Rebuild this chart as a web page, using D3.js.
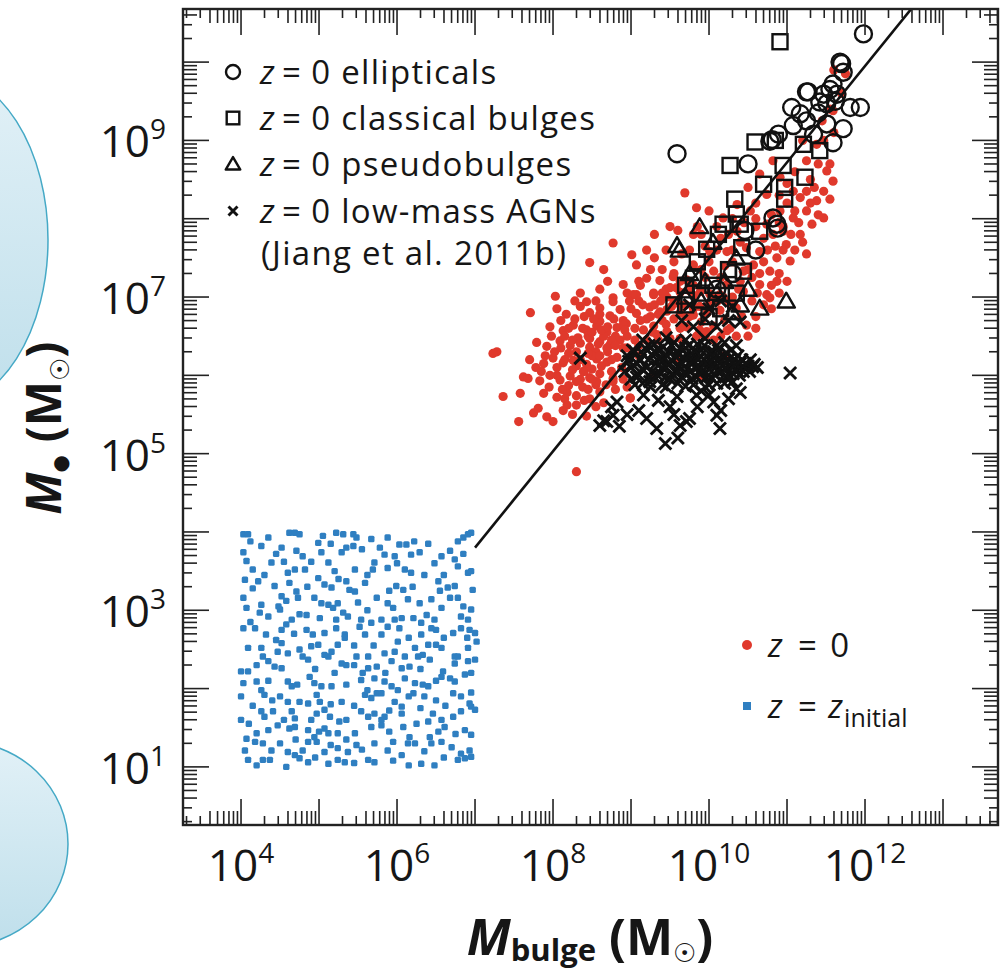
<!DOCTYPE html>
<html><head><meta charset="utf-8">
<script src="https://cdn.jsdelivr.net/npm/d3@7"></script>
<style>
body{margin:0;background:#fff;}
svg{display:block;}
text{font-family:"Open Sans","Noto Sans",sans-serif;fill:#161616;}
</style>
</head><body>
<svg id="chart" width="1005" height="976"></svg>
<script>
// ---- DATA (log10 of M_bulge, log10 of M_BH) ----
const zInitialLog = [
[4.03,3.97],[4.09,3.97],[4.62,3.99],[4.69,3.99],[4.75,3.97],[5.22,3.99],[5.31,3.97],[5.44,3.97],[5.48,3.93],[5.67,3.91],[5.88,3.93],[6.03,3.84],[6.12,3.84],[6.78,3.88],[6.85,3.93],[6.91,3.97],[6.95,3.99],
[4.03,3.74],[4.26,3.82],[4.52,3.80],[4.71,3.76],[4.79,3.69],[4.99,3.86],[5.03,3.74],[5.29,3.74],[5.35,3.80],[5.44,3.82],[5.84,3.71],[5.97,3.69],[6.18,3.71],[6.29,3.74],[6.57,3.69],[6.68,3.76],[6.74,3.65],
[4.07,3.63],[4.15,3.52],[4.39,3.61],[4.60,3.48],[4.69,3.52],[4.82,3.52],[5.12,3.61],[5.20,3.50],[4.99,3.41],[5.46,3.52],[5.71,3.61],[5.69,3.52],[5.88,3.54],[6.10,3.52],[6.18,3.48],[6.78,3.56],[6.91,3.48],[6.95,3.50],
[4.05,3.39],[4.22,3.37],[4.43,3.31],[4.62,3.35],[4.71,3.24],[5.07,3.33],[5.16,3.29],[5.35,3.37],[5.39,3.26],[5.46,3.24],[5.59,3.35],[5.99,3.31],[6.08,3.26],[6.53,3.37],[6.65,3.29],[6.74,3.31],[6.97,3.26],
[4.03,3.16],[4.07,3.03],[4.26,3.07],[4.52,3.18],[4.58,3.12],[4.73,3.16],[4.94,3.16],[5.03,3.09],[5.12,3.07],[5.18,3.03],[5.24,3.09],[5.74,3.16],[5.88,3.09],[5.95,3.03],[6.14,3.14],[6.29,3.09],[6.44,3.14],[6.57,3.03],[6.68,3.16],[6.78,3.16],
[4.24,2.97],[4.35,2.92],[4.50,3.01],[4.65,2.88],[4.84,2.94],[5.01,2.90],[5.22,2.88],[5.31,2.97],[5.37,2.92],[5.54,2.88],[5.67,2.84],[5.80,2.88],[5.97,2.88],[6.06,2.90],[6.21,2.90],[6.38,2.94],[6.31,2.84],[6.48,2.88],[6.82,2.92],[6.91,2.88],[6.95,3.01],
[4.03,2.77],[4.18,2.77],[4.32,2.69],[4.52,2.75],[4.58,2.82],[4.84,2.75],[4.92,2.69],[5.07,2.71],[5.22,2.77],[5.33,2.69],[5.52,2.79],[5.59,2.69],[5.80,2.69],[5.88,2.79],[6.03,2.77],[6.31,2.69],[6.44,2.77],[6.50,2.75],[6.72,2.71],[6.82,2.77],[6.93,2.75],[7.00,2.71],
[4.09,2.52],[4.26,2.52],[4.28,2.41],[4.47,2.47],[4.52,2.58],[4.75,2.50],[4.90,2.54],[4.99,2.56],[5.07,2.43],[5.16,2.47],[5.24,2.56],[5.33,2.65],[5.48,2.41],[5.63,2.41],[5.84,2.45],[5.97,2.47],[6.01,2.60],[6.23,2.52],[6.33,2.43],[6.40,2.56],[6.50,2.56],[6.57,2.52],[6.74,2.41],[6.91,2.52],[7.02,2.60],
[4.00,2.22],[4.09,2.22],[4.35,2.35],[4.43,2.28],[4.52,2.26],[4.79,2.41],[4.86,2.37],[5.12,2.41],[5.29,2.32],[5.35,2.30],[5.56,2.20],[5.63,2.26],[5.74,2.28],[5.93,2.35],[6.06,2.26],[6.10,2.41],[6.16,2.28],[6.27,2.41],[6.42,2.37],[6.59,2.22],[6.74,2.32],[6.78,2.41],[6.91,2.35],[7.00,2.37],
[4.03,2.07],[4.20,2.09],[4.26,1.98],[4.60,2.09],[4.65,2.03],[4.88,2.15],[4.94,2.07],[5.03,2.03],[5.16,2.03],[5.54,2.11],[5.71,2.13],[5.84,2.09],[5.93,2.03],[6.01,1.98],[6.10,2.13],[6.23,2.07],[6.33,2.05],[6.40,2.03],[6.57,2.15],[6.68,2.13],[6.74,2.09],[6.87,2.18],
[4.00,1.90],[4.30,1.92],[4.50,1.90],[4.60,1.83],[4.75,1.83],[4.86,1.81],[4.97,1.92],[5.01,1.83],[5.29,1.83],[5.59,1.92],[5.67,1.88],[5.74,1.94],[5.80,1.94],[5.97,1.83],[6.06,1.77],[6.21,1.94],[6.35,1.90],[6.72,1.94],[6.82,1.90],[6.93,1.81],
[4.00,1.60],[4.26,1.71],[4.30,1.64],[4.41,1.71],[4.65,1.71],[4.69,1.62],[4.90,1.60],[4.97,1.68],[5.07,1.73],[5.14,1.64],[5.26,1.58],[5.35,1.60],[5.54,1.71],[5.63,1.64],[5.71,1.68],[5.80,1.60],[5.84,1.64],[6.06,1.68],[6.40,1.58],[6.46,1.68],[6.57,1.60],[6.72,1.64],[6.82,1.71],[6.95,1.77],[7.00,1.73],
[4.07,1.36],[4.20,1.43],[4.35,1.47],[4.47,1.53],[4.62,1.49],[4.69,1.51],[4.86,1.47],[4.94,1.38],[5.07,1.49],[5.12,1.43],[5.24,1.43],[5.46,1.43],[5.67,1.51],[5.80,1.53],[6.08,1.51],[6.16,1.38],[6.42,1.38],[6.53,1.45],[6.61,1.51],[6.87,1.47],[6.95,1.41],
[4.05,1.21],[4.18,1.32],[4.39,1.21],[4.50,1.30],[4.60,1.19],[4.69,1.15],[4.79,1.21],[4.86,1.32],[4.97,1.32],[5.07,1.19],[5.24,1.24],[5.37,1.19],[5.48,1.28],[5.71,1.30],[5.88,1.21],[6.06,1.15],[6.14,1.30],[6.23,1.30],[6.44,1.30],[6.57,1.32],[6.82,1.17],[6.93,1.21],
[4.09,1.09],[4.28,1.09],[4.37,1.09],[4.58,1.00],[4.75,1.11],[4.86,1.06],[5.12,1.04],[5.24,1.09],[5.33,1.06],[5.63,1.09],[5.71,1.06],[6.31,1.04],[6.48,1.02],[6.78,1.09],[6.87,1.11],[6.95,1.13],
[4.12,3.88],[4.35,3.93],[4.45,3.72],[4.55,3.62],[4.90,3.62],[5.05,3.95],[5.15,3.85],[5.55,3.78],[5.62,3.45],[5.78,3.80],[6.00,3.60],[6.22,3.88],[6.40,3.85],[6.48,3.60],[6.60,3.45],[6.85,3.72],
[4.15,3.28],[4.30,3.45],[4.48,3.05],[4.85,3.30],[5.25,3.40],[5.50,3.10],[5.62,3.00],[5.90,3.25],[6.20,3.30],[6.35,3.45],[6.55,3.25],[6.85,3.05],[4.12,2.85],[4.45,2.62],[4.68,2.70],[4.75,2.95],
[5.45,2.55],[5.70,2.55],[6.15,2.65],[6.60,2.65],[6.90,2.65],[4.20,2.30],[4.60,2.45],[4.95,2.25],[5.20,2.20],[5.45,2.30],[5.85,2.20],[6.30,2.25],[6.50,2.10],[6.95,2.20],[4.35,2.10],[4.72,2.05],
[5.35,2.05],[5.62,1.98],[6.15,1.90],[6.50,1.85],[6.95,1.95],[4.15,1.78],[4.40,1.85],[5.15,1.80],[5.45,1.78],[5.90,1.72],[6.30,1.75],[6.62,1.78],[4.10,1.55],[4.55,1.60],[5.00,1.45],[5.35,1.35],
[5.90,1.45],[6.25,1.55],[6.75,1.42],[4.28,1.30],[4.70,1.35],[5.15,1.28],[5.55,1.22],[5.95,1.32],[6.35,1.20],[6.70,1.25],[4.20,1.02],[4.95,1.12],[5.45,1.05],[5.95,1.08],[6.15,1.02],[6.60,1.12]
];

const zZeroLog = [
[8.05,6.85],[8.17,6.78],[8.35,6.88],[8.47,6.80],[8.60,6.86],[8.73,6.76],[8.86,6.84],[9.07,6.79],[9.24,6.87],[9.37,6.81],
[7.96,6.62],[8.13,6.57],[8.26,6.64],[8.43,6.58],[8.56,6.63],[8.69,6.55],[8.82,6.61],[8.94,6.66],[9.16,6.58],[9.29,6.63],[9.46,6.56],[9.63,6.62],
[7.79,6.42],[7.92,6.37],[8.09,6.44],[8.22,6.38],[8.35,6.41],[8.47,6.36],[8.60,6.43],[8.73,6.39],[8.86,6.45],
[7.70,6.20],[7.88,6.15],[8.00,6.22],[8.13,6.16],[8.26,6.19],[8.43,6.14],[8.56,6.21],[8.69,6.17],[8.82,6.23],
[7.62,5.98],[7.83,5.93],[7.96,6.00],[8.09,5.94],[8.22,5.99],[8.35,5.95],[8.47,5.97],[8.60,6.02],[8.77,5.92],
[7.88,5.77],[8.05,5.72],[8.18,5.78],[8.30,5.74],[8.47,5.70],[8.60,5.79],[8.99,5.71],
[7.75,5.52],[7.92,5.47],[8.13,5.55],[8.43,5.48],
[8.15,6.50],[8.30,6.30],[8.45,6.50],[8.55,6.30],[8.65,6.50],[8.40,6.05],[8.25,6.07],[8.50,6.08],[8.70,6.30],[8.80,6.50],[8.90,6.70],[8.95,6.50],[9.05,6.60],[9.10,6.95],[9.20,6.72],[8.02,6.30],[7.85,6.05],[8.38,5.85],[8.55,5.88],[8.20,5.87],[8.90,6.35],
[9.69,8.33],[9.84,8.14],[8.77,7.69],[9.01,7.54],[9.07,7.41],[8.47,7.44],[8.65,7.35],[8.90,7.16],[8.03,7.01],[8.35,7.05],[8.77,6.99],[7.71,6.80],[7.28,6.30],[7.36,5.73],[7.56,5.41],[7.81,5.58],[8.00,5.41],[8.30,4.77],[8.18,5.62],[7.68,5.96],[7.23,6.28],[7.58,5.77],[8.60,7.10],[8.95,7.05],[9.20,7.60],[9.30,7.80],
[9.20,7.24],[9.37,7.21],[9.54,7.26],[9.71,7.22],[9.07,7.03],[9.29,7.05],[9.46,7.00],[9.63,7.06],[9.80,7.02],[10.01,7.04],[10.18,7.00],[9.46,6.84],[9.63,6.80],[9.80,6.85],[9.97,6.79],[10.14,6.83],[9.71,6.62],[9.88,6.58],[10.06,6.63],[10.23,6.57],[9.63,6.47],[9.84,6.50],[10.06,6.45],
[8.43,6.94],[8.60,6.69],[8.77,6.94],[8.90,6.64],[8.47,6.47],[8.69,6.35],[8.39,6.05],[8.56,5.92],[8.77,5.96],[8.99,5.71],[9.03,7.03],[9.29,7.03],[9.46,6.82],[9.63,6.60],[9.80,6.77],[9.97,6.56],[10.14,7.03],[10.35,6.86],[10.48,6.64],[10.27,6.60],[10.74,7.03],[9.33,6.52],[9.50,6.47],
[11.47,9.00],[11.38,8.95],[11.55,9.40],[11.25,8.74],[11.51,8.61],[11.59,8.48],[11.47,8.35],[11.38,8.23],[11.47,8.01],[11.25,8.10],[11.32,7.93],[11.08,8.01],[11.17,7.80],[10.99,7.67],[11.04,7.46],[10.87,7.50],[10.78,7.33],[10.65,7.58],[10.57,7.41],[10.44,7.33],[10.65,7.16],[10.87,7.20],[10.44,7.07],[10.23,7.16],[10.06,7.33],[9.80,7.41],[9.63,7.20],[9.50,7.12],[9.89,7.07],[10.10,6.94],[10.31,6.90],[9.63,6.90],[10.78,6.99],[10.74,7.93],[10.91,8.10],[11.08,8.35],[11.17,8.27],[10.82,7.80],[10.95,7.84],[10.48,7.63],[10.23,7.58],[10.01,7.58],[10.36,7.84],[10.53,8.10],[10.74,8.31],[10.36,8.18],[10.18,8.01],[10.65,8.57],[10.91,8.53],[10.82,8.74],[11.59,9.38],
[9.90,7.80],[10.10,7.90],[10.00,8.10],[10.30,8.00],[10.50,8.40],[10.60,7.90],[10.70,7.75],[10.90,7.95],[11.00,8.20],[11.10,8.60],[11.20,9.00],[11.30,8.50],[11.40,8.70],[11.60,9.10],[11.70,9.60],[10.40,7.70],[10.55,7.25],[10.70,7.45],[10.85,7.65],[11.10,7.60],[11.20,7.70],[10.90,7.30],[10.30,7.45],[10.15,7.25],[9.95,7.25],[9.75,7.60],[9.55,7.45],[9.40,7.35],[9.60,7.85],[9.50,7.90],[11.60,9.90],[11.75,9.85],[11.45,9.25],
[8.10,6.70],[8.28,6.72],[8.52,6.72],[8.78,6.72],[9.00,6.85],[8.38,6.60],[8.62,6.58],[8.75,6.45],[8.50,6.25],[8.62,6.12],[8.75,6.05],[8.88,6.10],[8.35,6.20],[8.20,6.28],[8.05,6.10],[7.95,5.85],[8.12,5.82],[8.30,5.62],[8.45,5.82],[8.65,5.65],[8.80,5.82],[8.90,5.95],[8.28,6.95],[8.55,6.95],[8.70,7.20],[9.10,7.20],[8.98,6.95],[9.15,6.90],[9.30,6.90],[9.25,6.75],[9.40,6.70],[9.55,6.72],[9.38,6.95],[9.05,6.45],[9.20,6.45],[9.35,6.45],[8.95,6.35],[9.10,6.38],
[9.90,6.68],[10.00,6.90],[10.20,6.70],[10.30,7.00],[10.42,6.75],[10.55,6.95],[10.60,6.75],[10.65,7.30],[10.40,7.20],[10.20,7.40],[10.00,7.45],[9.80,7.15],[9.70,6.90],[9.55,6.95],[9.45,7.10],[9.90,7.35],[10.10,7.60],[10.25,7.80],[10.45,7.95],[10.60,8.20],[10.80,8.05],[10.95,7.60],[11.05,7.80],[11.15,7.95],[11.25,8.35],[11.35,8.40],[11.40,8.05],[11.55,8.70],[11.55,8.25],[10.90,7.05],[10.80,6.85],[11.00,7.20],[10.70,6.90],[10.50,6.50],[10.35,6.50],[10.60,6.60],[9.75,6.75],[9.95,6.50],[10.15,6.50],[11.25,7.55],[11.00,8.45],[10.90,8.30],[10.60,8.00],[10.30,7.60],[10.15,7.75],[9.95,7.65],[9.80,7.80],[9.65,7.55],[9.45,7.60],[9.30,7.50],[9.40,7.05],[9.25,7.35],[9.12,7.15],[9.55,7.30],[9.85,7.90],
[9.10,6.25],[9.30,6.00],[9.60,6.20],[9.90,6.00],[10.20,6.25],[8.95,5.85],
[8.20,6.60],[8.40,6.75],[8.60,6.78],[8.32,6.48],[8.58,6.40],[8.80,6.38],[8.70,6.62],[8.50,6.55],[8.25,6.45],[8.10,6.35],[7.98,6.50],[8.15,6.20],[8.30,6.12],[8.45,6.28],[8.60,6.25],[8.75,6.20],[8.05,6.00],[8.30,5.92],[8.50,5.95],[8.68,5.88],[8.15,5.70],[8.40,5.68],[8.55,5.60],[8.25,5.50],[7.90,6.25],[7.78,6.10],
[8.92,6.58],[9.12,6.70],[9.28,6.55],[9.45,6.65],[9.35,6.78],[9.52,6.88],[9.70,6.75],[9.58,7.12],[9.75,7.08],[9.88,6.88],[10.05,7.00],[10.25,6.95],[10.38,7.10],[10.50,7.35],[10.75,7.60],[10.95,7.90],[11.10,8.10],[11.30,8.20],[10.80,7.15],[10.62,7.05]
];

const ellipticalsLog = [
[11.98,10.36],[11.70,9.98],[11.72,9.87],[11.25,9.62],[11.06,9.42],[11.17,9.34],[11.81,9.42],[11.72,9.15],[11.51,9.21],[11.59,8.97],[10.78,8.99],[10.50,8.70],[9.59,8.83],[10.82,8.01],[10.87,7.93],[11.59,9.72],[11.47,9.59],[11.64,9.59],[11.51,9.47],[11.34,9.08],[11.42,9.49],[11.08,9.19],[11.25,9.25],[10.89,9.08],[11.94,9.42],[10.81,9.01],[11.27,9.62],[11.68,10.00],[10.88,7.88],[10.10,7.10],[10.30,7.30],[10.60,7.60],[10.46,7.85],[11.55,9.65],[11.62,9.50],[11.40,9.35]
];
const classicalLog = [
[10.91,10.26],[10.59,8.98],[10.85,9.00],[10.27,8.68],[11.21,8.95],[11.42,8.87],[10.95,8.68],[11.23,8.53],[10.70,8.44],[10.97,8.40],[10.33,8.25],[10.97,8.25],[10.35,8.06],[10.18,7.93],[10.40,7.93],[10.65,7.84],[9.97,7.61],[10.42,7.63],[10.12,7.80],[9.80,7.24],[10.44,7.33],[9.85,7.45],[10.05,7.15],[10.25,7.35],[9.70,7.15],
[9.70,6.90],[9.90,7.05],[10.15,6.85],[10.35,7.05],[10.00,6.75],[9.55,6.90]
];
const pseudoLog = [
[9.59,7.66],[9.62,7.60],[9.88,7.90],[10.05,7.70],[10.35,7.50],[9.75,7.30],[10.10,7.05],[10.40,6.90],[10.65,6.86],[10.99,6.95],[9.90,6.95],[10.20,7.20],[9.70,7.00],[10.30,6.80],[9.95,7.20],[10.50,7.10]
];
const agnLog = [
[8.95,6.25],[9.00,6.10],[9.05,6.30],[9.10,6.00],[9.12,6.20],[9.18,6.35],[9.20,6.10],[9.25,5.98],[9.28,6.25],[9.32,6.15],[9.35,6.32],[9.38,6.02],[9.42,6.20],[9.45,6.10],[9.48,6.30],[9.50,5.95],[9.53,6.18],[9.56,6.05],[9.60,6.28],[9.62,6.12],[9.65,5.98],[9.68,6.22],[9.70,6.35],[9.72,6.08],[9.75,6.17],[9.78,5.96],[9.80,6.26],[9.83,6.10],[9.86,6.20],[9.88,6.02],[9.90,6.32],[9.93,6.14],[9.96,5.97],[9.98,6.24],[10.00,6.08],[10.03,6.18],[10.06,6.30],[10.08,6.00],[10.10,6.12],[10.13,6.22],[10.16,6.05],[10.20,6.16],[10.23,6.28],[10.26,6.00],[10.30,6.10],[10.33,6.20],[10.36,6.06],[10.40,6.15],[10.45,6.10],[10.50,6.12],[10.56,6.11],[9.00,5.95],[9.15,5.90],[9.40,5.88],[9.70,5.86],[10.00,5.88],[10.20,5.90],[9.30,6.40],[9.55,6.42],[9.85,6.40],[10.10,6.38],
[11.04,6.03],[10.35,5.83],[10.06,5.66],[10.10,5.49],[10.14,5.32],[9.63,5.36],[9.71,5.41],[9.33,5.32],[9.44,5.13],[8.69,5.41],[8.77,5.49],[8.60,5.36],[9.16,5.75],[9.59,5.73],[9.84,5.75],[9.24,5.92],[8.82,5.66],[9.03,6.13],[8.35,6.22],[8.65,5.42],[8.75,5.60],[9.90,5.80],[10.25,5.70],[9.75,5.45],
[8.92,6.05],[8.97,6.18],[9.02,6.32],[9.07,5.98],[9.08,6.15],[9.14,6.08],[9.16,6.27],[9.22,6.20],[9.23,6.38],[9.27,6.05],[9.30,6.30],[9.34,6.00],[9.36,6.22],[9.40,6.10],[9.41,6.36],[9.44,5.98],[9.46,6.25],[9.50,6.15],[9.52,6.38],[9.55,6.00],[9.57,6.25],[9.61,6.05],[9.63,6.35],[9.66,6.15],[9.69,6.02],[9.71,6.28],[9.74,6.38],[9.76,6.05],[9.79,6.18],[9.82,6.32],[9.84,5.98],[9.87,6.12],[9.89,6.25],[9.92,6.05],[9.94,6.38],[9.97,6.16],[10.00,6.28],[10.02,5.98],[10.05,6.12],[10.07,6.22],[10.11,6.05],[10.12,6.32],[10.15,6.16],[10.18,6.25],[10.21,5.98],[10.22,6.08],[10.25,6.20],[10.28,6.32],[10.31,6.02],[10.34,6.14],[10.37,6.25],[10.39,6.00],[10.42,6.20],[10.44,6.05],[10.47,6.15],[10.52,6.05],[10.53,6.20],[10.58,6.14],[10.62,6.10],
[9.05,5.88],[9.25,5.85],[9.45,5.85],[9.60,5.90],[9.80,5.88],[9.95,5.85],[10.10,5.90],[10.30,5.92],[9.15,6.45],[9.45,6.48],[9.70,6.45],[9.95,6.47],[10.20,6.42],[10.35,6.38],
[9.50,5.60],[9.35,5.68],[9.85,5.60],[10.00,5.75],[10.40,5.78],[9.10,5.55],[8.95,5.50],[8.85,5.35],[9.20,5.45],[9.60,5.20],[10.15,5.55],[9.55,5.50],
[9.65,6.70],[9.80,6.62],[9.95,6.72],[10.10,6.62],[10.25,6.70],[10.40,6.68],[9.75,6.90],[10.00,6.85],[10.15,6.95],[10.30,6.88]
];

const relationLogX = [7.0, 13.0];
const relationLogY = [3.8, 11.18];

const xMajorExps = [3,4,5,6,7,8,9,10,11,12,13];
const yMajorExps = [0,1,2,3,4,5,6,7,8,9,10];
const xLabelExps = [4,6,8,10,12];
const yLabelExps = [1,3,5,7,9];
const minorMults = [2,3,4,5,6,7,8,9];

const legendTop = [
  {type:"circle", label:"ellipticals"},
  {type:"square", label:"classical bulges"},
  {type:"triangle", label:"pseudobulges"},
  {type:"cross", label:"low-mass AGNs"}
];

// ---- LAYOUT ----
const L = 183, R = 998, T = 9, B = 825;
const svg = d3.select("#chart");

const x = d3.scaleLog().domain([Math.pow(10,3.256), Math.pow(10,13.705)]).range([L, R]);
const y = d3.scaleLog().domain([Math.pow(10,0.258), Math.pow(10,10.678)]).range([B, T]);
const P = v => Math.pow(10, v);

// decorative blobs on the left
const defs = svg.append("defs");
const grad = defs.append("linearGradient").attr("id","blobg").attr("x1",0).attr("y1",0).attr("x2",0).attr("y2",1);
grad.append("stop").attr("offset","0%").attr("stop-color","#e2f1f7");
grad.append("stop").attr("offset","100%").attr("stop-color","#bfdfeb");
svg.append("ellipse").attr("cx",-60).attr("cy",240).attr("rx",108).attr("ry",168)
  .attr("fill","url(#blobg)").attr("stroke","#45a9c6").attr("stroke-width",1.5);
svg.append("ellipse").attr("cx",-40).attr("cy",844).attr("rx",108).attr("ry",103)
  .attr("fill","url(#blobg)").attr("stroke","#45a9c6").attr("stroke-width",1.5);

defs.append("clipPath").attr("id","plotclip").append("rect")
  .attr("x",L).attr("y",T).attr("width",R-L).attr("height",B-T);

const plot = svg.append("g").attr("clip-path","url(#plotclip)");

// blue initial points (squares)
plot.append("g").selectAll("rect").data(zInitialLog).join("rect")
  .attr("x", d => x(P(d[0])) - 3.2).attr("y", d => y(P(d[1])) - 3.2)
  .attr("width",6.4).attr("height",6.4).attr("rx",1.5)
  .attr("fill","#2f7fc1");

// red z=0 points
plot.append("g").selectAll("circle").data(zZeroLog).join("circle")
  .attr("cx", d => x(P(d[0]))).attr("cy", d => y(P(d[1]))).attr("r",4.6)
  .attr("fill","#e0392c");

// relation line
const lineData = relationLogX.map((v,i)=>[P(v), P(relationLogY[i])]);
plot.append("path").datum(lineData)
  .attr("d", d3.line().x(d=>x(d[0])).y(d=>y(d[1])))
  .attr("stroke","#111").attr("stroke-width",2.6).attr("fill","none");

// symbol helpers
function drawSym(g, type, cx, cy, s) {
  if (type === "circle") {
    g.append("circle").attr("cx",cx).attr("cy",cy).attr("r",s)
      .attr("fill","none").attr("stroke","#111").attr("stroke-width",2.4);
  } else if (type === "square") {
    g.append("rect").attr("x",cx-s).attr("y",cy-s).attr("width",2*s).attr("height",2*s)
      .attr("fill","none").attr("stroke","#111").attr("stroke-width",2.4);
  } else if (type === "triangle") {
    const h = s*1.1;
    g.append("path").attr("d",`M${cx},${cy-h}L${cx+h*1.05},${cy+h*0.8}L${cx-h*1.05},${cy+h*0.8}Z`)
      .attr("fill","none").attr("stroke","#111").attr("stroke-width",2.4).attr("stroke-linejoin","round");
  } else if (type === "cross") {
    g.append("path").attr("d",`M${cx-s},${cy-s}L${cx+s},${cy+s}M${cx-s},${cy+s}L${cx+s},${cy-s}`)
      .attr("stroke","#111").attr("stroke-width",2.9).attr("fill","none");
  }
}
const symG = plot.append("g");
agnLog.forEach(d => drawSym(symG, "cross", x(P(d[0])), y(P(d[1])), 6));
pseudoLog.forEach(d => drawSym(symG, "triangle", x(P(d[0])), y(P(d[1])), 7.5));
classicalLog.forEach(d => drawSym(symG, "square", x(P(d[0])), y(P(d[1])), 7.5));
ellipticalsLog.forEach(d => drawSym(symG, "circle", x(P(d[0])), y(P(d[1])), 8.5));

// ---- AXES / TICKS on four sides ----
const axG = svg.append("g").attr("stroke","#222");
function tickList(exps, lo, hi) {
  const out = [];
  exps.forEach(e => {
    if (e >= lo && e <= hi) out.push({v:P(e), len:26});
    minorMults.forEach(m => {
      const lv = e + Math.log10(m);
      if (lv > lo && lv < hi) out.push({v:P(lv), len: m <= 3 ? 9 : 14});
    });
  });
  return out;
}
const xt = tickList(xMajorExps, 3.256, 13.705);
const yt = tickList(yMajorExps, 0.258, 10.678);
xt.forEach(t => {
  const px = x(t.v);
  axG.append("line").attr("x1",px).attr("x2",px).attr("y1",B).attr("y2",B-t.len).attr("stroke-width",1.6);
  axG.append("line").attr("x1",px).attr("x2",px).attr("y1",T).attr("y2",T+t.len).attr("stroke-width",1.6);
});
yt.forEach(t => {
  const py = y(t.v);
  axG.append("line").attr("y1",py).attr("y2",py).attr("x1",L).attr("x2",L+t.len).attr("stroke-width",1.6);
  axG.append("line").attr("y1",py).attr("y2",py).attr("x1",R).attr("x2",R-t.len).attr("stroke-width",1.6);
});
svg.append("rect").attr("x",L).attr("y",T).attr("width",R-L).attr("height",B-T)
  .attr("fill","none").attr("stroke","#222").attr("stroke-width",2.4);

// tick labels
xLabelExps.forEach(e => {
  const t = svg.append("text").attr("x", x(P(e))).attr("y", 881)
    .attr("text-anchor","middle").attr("font-size",44);
  t.append("tspan").text("10");
  t.append("tspan").attr("dy",-18).attr("font-size",28).text(e);
});
yLabelExps.forEach(e => {
  const t = svg.append("text").attr("x", 166).attr("y", y(P(e)) + 17)
    .attr("text-anchor","end").attr("font-size",44);
  t.append("tspan").text("10");
  t.append("tspan").attr("dy",-18).attr("font-size",28).text(e);
});

// axis titles
const xt1 = svg.append("text").attr("x",590).attr("y",955).attr("text-anchor","middle")
  .attr("font-size",50).attr("font-weight","bold");
xt1.append("tspan").attr("font-style","italic").text("M");
xt1.append("tspan").attr("dy",6).attr("font-size",31).text("bulge");
xt1.append("tspan").attr("dy",-6).text(" (M");
xt1.append("tspan").attr("dy",7).attr("font-size",26).attr("font-family","DejaVu Sans").text("☉");
xt1.append("tspan").attr("dy",-7).text(")");

const yt1 = svg.append("text").attr("transform","translate(61,428) rotate(-90)").attr("text-anchor","middle")
  .attr("font-size",48).attr("font-weight","bold");
yt1.append("tspan").attr("font-style","italic").text("M");
yt1.append("tspan").attr("dy",6).attr("font-size",20).attr("font-family","DejaVu Sans").text("●");
yt1.append("tspan").attr("dy",-6).text(" (M");
yt1.append("tspan").attr("dy",8).attr("font-size",26).attr("font-family","DejaVu Sans").text("☉");
yt1.append("tspan").attr("dy",-8).text(")");

// ---- legend (top-left) ----
const legY = [72, 118, 164, 211];
const lg = svg.append("g");
function zEqText(g, xp, yp, gap1, gap2) {
  const t = g.append("text").attr("x",xp).attr("y",yp).attr("font-size",33).attr("letter-spacing",1.3);
  t.append("tspan").attr("font-style","italic").text("z");
  t.append("tspan").attr("dx",gap1).text("=");
  t.__gap2 = gap2;
  return t;
}
legendTop.forEach((d,i) => {
  const s = d.type === "cross" ? 4.5 : (d.type === "circle" ? 7 : 6.3);
  drawSym(lg, d.type, 233, legY[i], s);
  const t = zEqText(lg, 260, legY[i]+12, 6, 9);
  t.append("tspan").attr("dx",9).text("0 " + d.label);
});
lg.append("text").attr("x",261).attr("y",265).attr("font-size",33).attr("letter-spacing",1.3).text("(Jiang et al. 2011b)");

// ---- legend (bottom-right) ----
svg.append("circle").attr("cx",747).attr("cy",645).attr("r",5).attr("fill","#e0392c");
const t1 = zEqText(svg, 768, 657, 14, 12);
t1.append("tspan").attr("dx",12).text("0");
svg.append("rect").attr("x",743).attr("y",702).attr("width",8).attr("height",8).attr("fill","#2f7fc1");
const t2 = zEqText(svg, 768, 718, 14, 10);
t2.append("tspan").attr("dx",10).attr("font-style","italic").text("z");
t2.append("tspan").attr("dy",9).attr("font-size",25).attr("letter-spacing",0).text("initial");
</script>
</body></html>
